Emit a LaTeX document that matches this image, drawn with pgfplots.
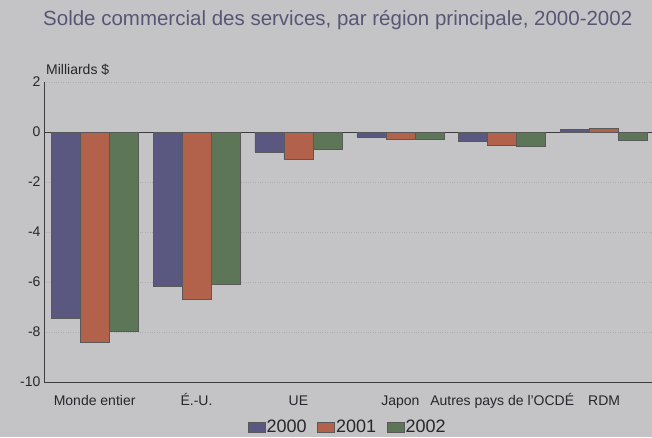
\documentclass[border=0pt]{standalone}
\usepackage{fontspec}
\setmainfont{Liberation Sans}
\usepackage{pgfplots}
\pgfplotsset{compat=1.18}
\usetikzlibrary{calc,backgrounds}

\definecolor{bg}{RGB}{196,196,198}
\definecolor{txt}{RGB}{38,38,44}
\definecolor{titlec}{RGB}{88,86,118}
\definecolor{gridc}{RGB}{172,172,176}
\definecolor{cA}{RGB}{90,88,128}
\definecolor{cB}{RGB}{178,98,74}
\definecolor{cC}{RGB}{94,118,88}

\pgfplotsset{
  swatch/.style={legend image code/.code={\draw[##1, draw=black!65, line width=0.5pt] (0pt,-5pt) rectangle (17pt,5pt);}},
}

\begin{document}
\begin{tikzpicture}[x=1pt,y=1pt]
\begin{axis}[
  scale only axis, width=608pt, height=300pt,
  ybar=0pt, bar width=29pt,
  xmin=-0.497, xmax=5.47, ymin=-10, ymax=2,
  axis x line*=bottom, axis y line*=left,
  axis line style={draw=txt!90, line width=0.8pt},
  major tick length=0pt, tick style={draw=none},
  xtick={0,1,2,3,4,5},
  xticklabels={Monde entier, É.-U., UE, Japon, Autres pays de l'OCDÉ, RDM},
  xticklabel style={anchor=base, yshift=-23pt},
  ytick={-10,-8,-6,-4,-2,0,2},
  yticklabels={-10,-8,-6,-4,-2,0,2},
  tick label style={text=txt, font=\fontsize{14}{16}\selectfont},
  ymajorgrids, grid style={dotted, gridc, line width=0.7pt},
  extra y ticks={0}, extra y tick labels={},
  extra y tick style={grid style={solid, draw=txt!90, line width=0.8pt}},
  legend columns=3,
  legend style={at={(0.499,-0.15)}, anchor=center, draw=none, fill=none,
    font=\fontsize{18}{20}\selectfont, text=txt,
    nodes={inner sep=1.5pt},
    /tikz/every even column/.append style={column sep=9pt}},
]
\coordinate (O) at (rel axis cs:0,0);
\addplot[fill=cA, draw=black!65, line width=0.5pt, swatch] coordinates
  {(0,-7.46) (1,-6.18) (2,-0.79) (3,-0.21) (4,-0.37) (5,0.10)};
\addplot[fill=cB, draw=black!65, line width=0.5pt, swatch] coordinates
  {(0,-8.42) (1,-6.67) (2,-1.10) (3,-0.27) (4,-0.53) (5,0.14)};
\addplot[fill=cC, draw=black!65, line width=0.5pt, swatch] coordinates
  {(0,-7.98) (1,-6.08) (2,-0.67) (3,-0.30) (4,-0.57) (5,-0.33)};
\legend{2000,2001,2002}
\end{axis}
% picture frame: axis box corner sits 44 from the left, 55 from the bottom
\node[anchor=base west, inner sep=0pt, text=titlec, font=\fontsize{20.5}{24}\selectfont]
  at ($(O)+(-1,356)$) {Solde commercial des services, par région principale, 2000-2002};
\node[anchor=base west, inner sep=0pt, text=txt, font=\fontsize{14}{16}\selectfont]
  at ($(O)+(2,307)$) {Milliards \$};
\begin{scope}[on background layer]
\fill[bg] ($(O)+(-44,-55)$) rectangle ($(O)+(608,382)$);
\end{scope}
\pgfresetboundingbox
\useasboundingbox ($(O)+(-44,-55)$) rectangle ($(O)+(608,382)$);
\end{tikzpicture}
\end{document}
